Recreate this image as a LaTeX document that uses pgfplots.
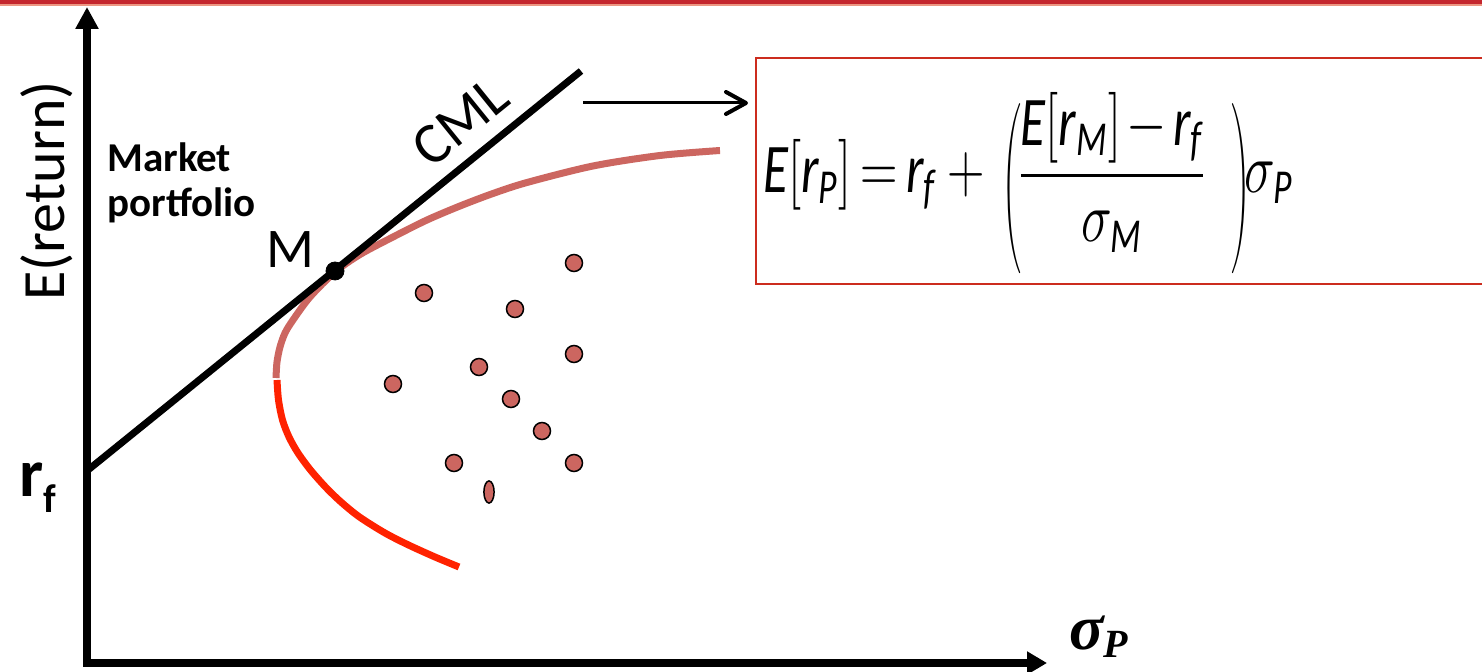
\documentclass[border=0pt]{standalone}
\usepackage{amsmath}
\usepackage{graphicx}
\usepackage{fontspec}
\setmainfont{Carlito}
\newfontfamily\timesf{Liberation Serif}
\usepackage{pgfplots}
\pgfplotsset{compat=1.18}
\usetikzlibrary{arrows.meta}

\definecolor{dotred}{RGB}{204,102,96}
\definecolor{frontred}{RGB}{255,34,0}
\definecolor{boxred}{RGB}{204,44,30}
\definecolor{barred}{RGB}{196,38,46}
\definecolor{barpink}{RGB}{236,150,130}

\newcommand{\ti}[1]{\textit{#1}}
% tall, narrow parenthesis, lowered a little as in the slide
\newcommand{\bigparen}[1]{\raisebox{-3.2pt}{\scalebox{0.5}[1]{$#1$}}}

\begin{document}
\begin{tikzpicture}
\begin{axis}[
  width=741pt, height=336pt, scale only axis,
  xmin=0, xmax=1482, ymin=0, ymax=672, y dir=reverse,
  hide axis, clip=true,
]
\coordinate (SW) at (axis cs:0,672);
\coordinate (NE) at (axis cs:1482,0);

% slide header rule
\fill[barred] (axis cs:0,0) rectangle (axis cs:1482,4.5);
\fill[barpink] (axis cs:0,4.5) rectangle (axis cs:1482,6.5);

% axes
\addplot[black, line width=3.75pt, line join=miter,
  {Triangle[length=11pt,width=11pt]}-{Triangle[length=10pt,width=11pt]}]
  coordinates {(87,7) (87,663) (1047,663)};

% efficient frontier, upper part
\addplot[dotred, line width=3.5pt, smooth] coordinates {
  (276,378) (277,362) (280,347) (285,333) (293,320) (310,297)
  (335,272) (360,254.5) (393,237) (427,220) (460,206) (493,193.5)
  (527,182.5) (593,166) (660,155.5) (720,150.5)};
% lower part
\addplot[frontred, line width=3.5pt, smooth] coordinates {
  (277,380) (278.5,400) (282.5,420) (289,437) (298,453) (310.5,470)
  (325.5,487) (341,502) (359.5,517) (385,533) (408.5,545) (435,557) (459,567)};

% capital market line
\addplot[black, line width=3.5pt] coordinates {(88,470) (581,71)};

% individual assets
\addplot[only marks, mark=*, mark size=4.25pt,
  mark options={fill=dotred, draw=black, line width=0.75pt}] coordinates {
  (574,263) (424,293) (515,309) (574,354) (479,367) (393,384)
  (511,399) (542,431) (454,463) (574,463)};
\addplot[only marks, mark=*, mark size=4.25pt,
  mark options={fill=dotred, draw=black, line width=0.75pt, xscale=0.6, yscale=1.3}]
  coordinates {(489,492)};

% market portfolio
\addplot[only marks, mark=*, mark size=4.5pt, black] coordinates {(335,271)};

% labels
\node[rotate=90, font=\fontsize{30}{34}\selectfont] at (axis cs:47,191) {E(return)};
\node[anchor=base west, inner sep=0pt, font=\fontsize{20.5}{22}\selectfont\bfseries] at (axis cs:107,172) {Market};
\node[anchor=base west, inner sep=0pt, font=\fontsize{20.5}{22}\selectfont\bfseries] at (axis cs:107,217) {portfolio};
\node[anchor=base west, font=\fontsize{28}{30}\selectfont, inner sep=0pt] at (axis cs:266,268) {M};
\node[anchor=base, rotate=39, font=\fontsize{29}{31}\selectfont, inner sep=0pt] at (axis cs:472,136) {CML};
\node[anchor=base west, inner sep=0pt] at (axis cs:19,497)
  {\fontsize{34}{36}\selectfont\bfseries r\raisebox{-8pt}{\fontsize{20}{22}\selectfont\bfseries f}};
\node[anchor=base west, inner sep=0pt] at (axis cs:1069,650)
  {\fontsize{32}{34}\selectfont\timesf\bfseries\itshape σ\raisebox{-4pt}{\fontsize{20}{22}\selectfont P}};

% formula box and arrow
\draw[boxred, line width=1pt] (axis cs:1500,58) -- (axis cs:756,58) -- (axis cs:756,284) -- (axis cs:1500,284);
\draw[black, line width=1.5pt, -{Straight Barb[length=10pt,width=11pt,line width=2pt,round]}]
  (axis cs:583,103) -- (axis cs:748,103);
\node[anchor=base west, inner sep=0pt] at (axis cs:763,193)
  {\scalebox{1.5}[2.05]{\fontsize{17}{19}\selectfont\thinmuskip=2mu\medmuskip=4mu\thickmuskip=3mu
   $\ti{E}[\ti{r}_{\ti{P}}] = \ti{r}_{\ti{f}} + \mkern2mu\bigparen{\left(\vcenter{\hbox{\rule{0pt}{46pt}}}\right.}\mkern-2mu
    \dfrac{\ti{E}[\ti{r}_{\ti{M}}]\mkern-2mu-\mkern-2mu\ti{r}_{\ti{f}}}{\sigma_{\ti{M}}}\mkern8mu
    \bigparen{\left.\vcenter{\hbox{\rule{0pt}{46pt}}}\right)}\mkern-2mu\sigma_{\ti{P}}$}};
\end{axis}
\pgfresetboundingbox
\path[use as bounding box] (SW) rectangle (NE);
\end{tikzpicture}
\end{document}
